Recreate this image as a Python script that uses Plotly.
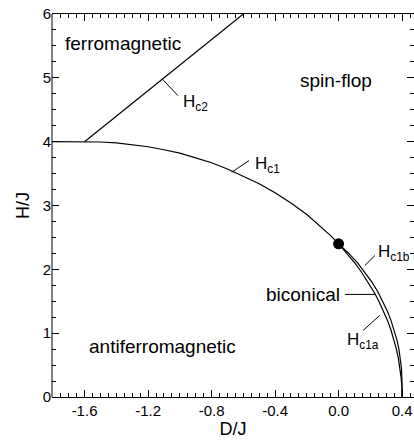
import plotly.graph_objects as go

# ---- data ----
hc1_D = [-1.805, -1.6, -1.5, -1.4, -1.3, -1.2, -1.1, -1.0, -0.9, -0.8, -0.7, -0.6,
         -0.5, -0.4, -0.3, -0.2, -0.1, -0.05, 0.0]
hc1_H = [4.0, 4.0, 3.995, 3.98, 3.955, 3.92, 3.873, 3.82, 3.747, 3.67, 3.571, 3.46,
         3.34, 3.2, 3.04, 2.86, 2.646, 2.528, 2.4]

hc1a_H = [2.4, 2.25, 2.1, 1.95, 1.8, 1.65, 1.5, 1.35, 1.2, 1.05, 0.9, 0.75, 0.6, 0.45, 0.3, 0.15, 0.0]
hc1a_D = [0.0, 0.054, 0.102, 0.146, 0.186, 0.222, 0.254, 0.283, 0.308, 0.330, 0.349, 0.364,
          0.377, 0.387, 0.394, 0.399, 0.4]

hc1b_H = [2.4, 2.25, 2.1, 1.95, 1.8, 1.65, 1.5, 1.35, 1.2, 1.05, 0.9, 0.75, 0.6, 0.45, 0.3, 0.15, 0.0]
hc1b_D = [0.0, 0.064, 0.120, 0.168, 0.210, 0.247, 0.279, 0.306, 0.330, 0.350, 0.367, 0.380,
          0.390, 0.396, 0.3985, 0.3998, 0.4]

hc2_D = [-1.6, -0.6]
hc2_H = [4.0, 6.0]

point_D = [0.0]
point_H = [2.4]

x_tickvals = [-1.6, -1.2, -0.8, -0.4, 0.0, 0.4]
x_ticktext = ["-1.6", "-1.2", "-0.8", "-0.4", "0.0", "0.4"]
y_tickvals = [0, 1, 2, 3, 4, 5, 6]
y_ticktext = ["0", "1", "2", "3", "4", "5", "6"]

# ---- figure ----
FONT = "Liberation Sans, Arial, Helvetica, sans-serif"
line_style = dict(color="black", width=1.2)

fig = go.Figure()
fig.add_trace(go.Scatter(x=hc1_D, y=hc1_H, mode="lines", line=line_style, hoverinfo="skip"))
fig.add_trace(go.Scatter(x=hc1a_D, y=hc1a_H, mode="lines", line=line_style, hoverinfo="skip"))
fig.add_trace(go.Scatter(x=hc1b_D, y=hc1b_H, mode="lines", line=line_style, hoverinfo="skip"))
fig.add_trace(go.Scatter(x=hc2_D, y=hc2_H, mode="lines", line=line_style, hoverinfo="skip"))
fig.add_trace(go.Scatter(x=point_D, y=point_H, mode="markers",
                         marker=dict(color="black", size=11), hoverinfo="skip"))

# leader lines (data coordinates)
leaders = [
    (-1.111, 4.983, -1.012, 4.721),   # Hc2
    (-0.673, 3.521, -0.564, 3.704),   # Hc1
    (0.166, 2.061, 0.229, 2.217),     # Hc1b
    (0.040, 1.607, 0.235, 1.607),     # biconical
    (0.260, 1.280, 0.155, 1.044),     # Hc1a
]
for x0, y0, x1, y1 in leaders:
    fig.add_shape(type="line", x0=x0, y0=y0, x1=x1, y1=y1, xref="x", yref="y",
                  line=dict(color="black", width=1))

# left frame line (the right frame edge lies just outside the picture)
fig.add_shape(type="line", xref="paper", yref="paper", x0=0, x1=0, y0=0, y1=1,
              line=dict(color="black", width=1))

big = dict(family=FONT, size=19, color="black")
hfont = dict(family=FONT, size=17, color="black")
annots = [
    dict(x=-1.360, y=5.535, text="ferromagnetic", font=big, xanchor="center", yanchor="middle"),
    dict(x=-0.017, y=4.956, text="spin-flop", font=big, xanchor="center", yanchor="middle"),
    dict(x=-1.111, y=0.793, text="antiferromagnetic", font=big, xanchor="center", yanchor="middle"),
    dict(x=0.022, y=1.607, text="biconical", font=big, xanchor="right", yanchor="middle"),
    dict(x=-0.993, y=4.60, text="H<sub>c2</sub>", font=hfont, xanchor="left", yanchor="middle"),
    dict(x=-0.539, y=3.63, text="H<sub>c1</sub>", font=hfont, xanchor="left", yanchor="middle"),
    dict(x=0.235, y=2.26, text="H<sub>c1b</sub>", font=hfont, xanchor="left", yanchor="middle"),
    dict(x=0.040, y=0.87, text="H<sub>c1a</sub>", font=hfont, xanchor="left", yanchor="middle"),
]
for a in annots:
    fig.add_annotation(xref="x", yref="y", showarrow=False, **a)

axis_common = dict(
    linecolor="black", linewidth=1, mirror="allticks",
    ticks="inside", tickcolor="black", tickwidth=1, ticklen=7,
    showgrid=False, zeroline=False, automargin=False, ticklabeloverflow="allow",
    tickfont=dict(family=FONT, size=15, color="black"),
)

fig.update_xaxes(
    showline=True,
    range=[-1.805, 0.475], tickmode="array", tickvals=x_tickvals, ticktext=x_ticktext,
    minor=dict(ticks="inside", ticklen=4, tickcolor="black", dtick=0.05, tick0=0, showgrid=False),
    title=dict(text="D/J", font=dict(family=FONT, size=18, color="black"), standoff=2),
    **axis_common,
)
fig.update_yaxes(
    showline=False,
    range=[0, 6], tickmode="array", tickvals=y_tickvals, ticktext=y_ticktext,
    minor=dict(ticks="inside", ticklen=4, tickcolor="black", dtick=0.25, tick0=0, showgrid=False),
    title=dict(text="H/J", font=dict(family=FONT, size=18, color="black"), standoff=8),
    **axis_common,
)

fig.update_layout(
    width=414, height=441,
    margin=dict(l=52, r=0, t=14, b=44),
    paper_bgcolor="white", plot_bgcolor="white",
    showlegend=False,
)

# remove the default 8 px page margin so the figure fills the window exactly
fig.write_html("out.html",
               config={"displayModeBar": False, "staticPlot": True},
               post_script="document.body.style.margin='0';document.body.style.overflow='hidden';")
